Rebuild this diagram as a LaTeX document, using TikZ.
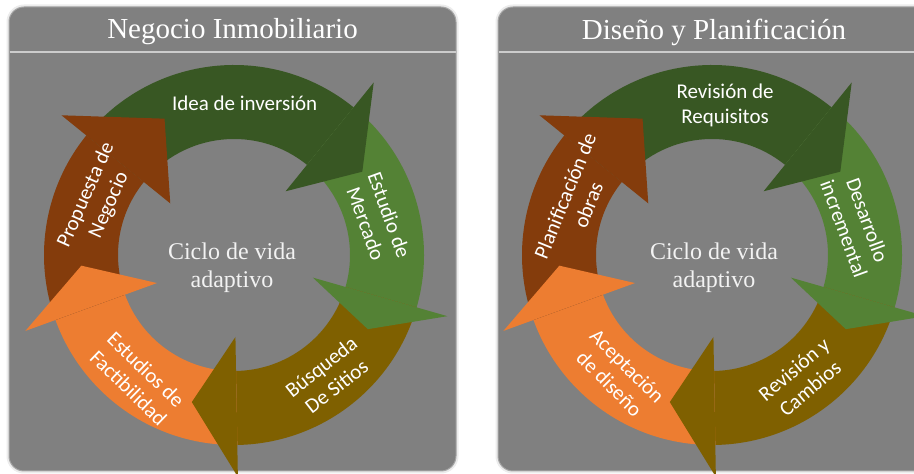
\documentclass[tikz,border=0pt]{standalone}
\usepackage{fontspec}
\setmainfont{Liberation Serif}
\newfontfamily\lblfont{Carlito}
\usepackage{tikz}

\definecolor{panelgray}{RGB}{128,128,128}
\definecolor{ideacol}{HTML}{385723}
\definecolor{mercadocol}{HTML}{548235}
\definecolor{sitioscol}{HTML}{7F6000}
\definecolor{factibcol}{HTML}{ED7D31}
\definecolor{propcol}{HTML}{843C0C}

% ring piece and its head (angles in degrees, clockwise)
\newcommand{\ringbody}[3]{\fill[#3] (#1:190) arc[start angle=#1,end angle=#2,radius=190] -- (#2:116) arc[start angle=#2,end angle=#1,radius=116] -- cycle;}
\newcommand{\ringhead}[3]{\fill[#3] (#1:82) -- (#1:222) -- (#2:153) -- cycle;}

\tikzset{
  panel/.style={fill=panelgray,draw=gray!70,line width=1pt,rounded corners=15pt},
  titletext/.style={text=white,font=\fontsize{29}{32}\selectfont},
  centertext/.style={text=white!95!black,align=center,font=\fontsize{24}{28}\selectfont},
  lbl/.style={text=white,align=center,font=\lblfont\fontsize{21}{25}\selectfont}
}

\begin{document}
\begin{tikzpicture}[x=1pt,y=1pt]
\useasboundingbox (0,0) rectangle (914,474);
\clip (0,0) rectangle (914,474);

% panels
\draw[gray!15,line width=3pt,rounded corners=16pt] (8,2) rectangle (457,468);
\draw[gray!15,line width=3pt,rounded corners=16pt] (497,2) rectangle (936,468);
\draw[panel] (9,3) rectangle (456,467);
\draw[panel] (498,3) rectangle (935,467);
\draw[gray!40,line width=2pt] (9.5,422) -- (455.5,422);
\draw[gray!40,line width=2pt] (498.5,422) -- (934.5,422);
\node[titletext] (title1) at (232.5,442) {Negocio Inmobiliario};
\node[titletext] (title2) at (714,442) {Diseño y Planificación};

\coordinate (c1) at (234,219);
\coordinate (c2) at (712,219);

% first cycle
\begin{scope}[shift={(c1)}]
\ringbody{141}{51}{ideacol}
\ringbody{51}{-16}{mercadocol}
\ringbody{-16}{-89}{sitioscol}
\ringbody{-89}{-160}{factibcol}
\ringbody{-160}{-219}{propcol}
\ringhead{51}{33}{ideacol}
\ringhead{-16}{-29}{mercadocol}
\ringhead{-89}{-106}{sitioscol}
\ringhead{-160}{-176}{factibcol}
\ringhead{-219}{-243}{propcol}
\node[lbl] (idea) at (86:152) {Idea de inversión};
\node[lbl,rotate=-70] (mercado) at (14:148) {Estudio de\\Mercado};
\node[lbl,rotate=38] (sitios) at (-52:154) {Búsqueda\\De Sitios};
\node[lbl,rotate=-44] (factib) at (-128:157) {Estudios de\\Factibilidad};
\node[lbl,rotate=66] (propuesta) at (158:147) {Propuesta de\\Negocio};
\end{scope}
\node[centertext] (ciclo1) at (232,206) {Ciclo de vida\\adaptivo};

% second cycle
\begin{scope}[shift={(c2)}]
\ringbody{141}{51}{ideacol}
\ringbody{51}{-16}{mercadocol}
\ringbody{-16}{-89}{sitioscol}
\ringbody{-89}{-160}{factibcol}
\ringbody{-160}{-219}{propcol}
\ringhead{51}{33}{ideacol}
\ringhead{-16}{-29}{mercadocol}
\ringhead{-89}{-106}{sitioscol}
\ringhead{-160}{-176}{factibcol}
\ringhead{-219}{-243}{propcol}
\node[lbl] (requisitos) at (85:150) {Revisión de\\Requisitos};
\node[lbl,rotate=-70] (desarrollo) at (12:147) {Desarrollo\\incremental};
\node[lbl,rotate=40] (cambios) at (-54:153) {Revisión y\\Cambios};
\node[lbl,rotate=-45] (aceptacion) at (-128:152) {Aceptación\\de diseño};
\node[lbl,rotate=68] (planif) at (158:146) {Planificación de\\obras};
\end{scope}
\node[centertext] (ciclo2) at (714,206) {Ciclo de vida\\adaptivo};
\end{tikzpicture}
\end{document}
